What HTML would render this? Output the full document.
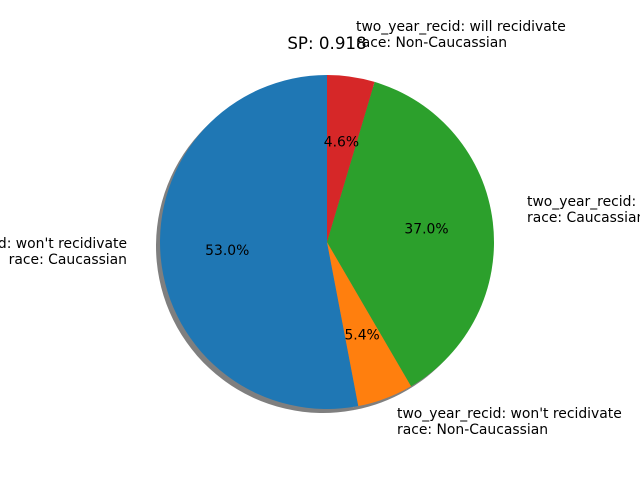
<!DOCTYPE html>
<html><head><meta charset="utf-8"><style>
body{margin:0;background:#fff;}
svg{display:block;font-family:"DejaVu Sans","Liberation Sans",sans-serif;}
</style></head><body>
<svg id="chart" width="640" height="480" viewBox="0 0 640 480">
<rect width="640" height="480" fill="#fff"/>
<text x="327" y="49" font-size="16.7" text-anchor="middle" fill="#000">SP: 0.918</text>
<g id="shadow"></g>
<g id="slices"></g>
<g id="pcts"></g>
<g font-size="13.9" fill="#000">
<text x="127" y="248" text-anchor="end"><tspan x="127">two_year_recid: won't recidivate</tspan><tspan x="127" dy="16">race: Caucassian</tspan></text>
<text x="397" y="418"><tspan x="397">two_year_recid: won't recidivate</tspan><tspan x="397" dy="16">race: Non-Caucassian</tspan></text>
<text x="527" y="206"><tspan x="527">two_year_recid: will recidivate</tspan><tspan x="527" dy="16">race: Caucassian</tspan></text>
<text x="356" y="31"><tspan x="356">two_year_recid: will recidivate</tspan><tspan x="356" dy="16">race: Non-Caucassian</tspan></text>
</g>
</svg>
<script>
const categories = ["won't recidivate / Caucassian","won't recidivate / Non-Caucassian","will recidivate / Caucassian","will recidivate / Non-Caucassian"];
const values = [53.0, 5.4, 37.0, 4.6];
const pctLabels = ["53.0%","5.4%","37.0%","4.6%"];
const colors = ["#1f77b4","#ff7f0e","#2ca02c","#d62728"];
const cx = 327, cy = 242, r = 167;
const NS = "http://www.w3.org/2000/svg";
const total = values.reduce((a,b)=>a+b,0);
function pt(deg, rad, ox, oy){ const a = deg*Math.PI/180; return [ox + rad*Math.cos(a), oy - rad*Math.sin(a)]; }
function arcPath(a0, a1, ox, oy){
  const p0 = pt(a0, r, ox, oy), p1 = pt(a1, r, ox, oy);
  const large = (a1-a0) > 180 ? 1 : 0;
  return `M${ox},${oy} L${p0[0]},${p0[1]} A${r},${r} 0 ${large} 0 ${p1[0]},${p1[1]} Z`;
}
const sh = document.getElementById('shadow'), sl = document.getElementById('slices'), pc = document.getElementById('pcts');
let start = 90;
values.forEach((v,i)=>{
  const sweep = v/total*360, end = start + sweep;
  const s = document.createElementNS(NS,'path');
  s.setAttribute('d', arcPath(start, end, cx-4, cy+4));
  s.setAttribute('fill', '#000'); s.setAttribute('fill-opacity', '0.5');
  
  
  sh.appendChild(s);
  const p = document.createElementNS(NS,'path');
  p.setAttribute('d', arcPath(start, end, cx, cy));
  p.setAttribute('fill', colors[i]);
  
  
  sl.appendChild(p);
  const mid = (start+end)/2, lp = pt(mid, 0.6*r, cx, cy);
  const t = document.createElementNS(NS,'text');
  t.setAttribute('x', lp[0]); t.setAttribute('y', lp[1]+3.5);
  t.setAttribute('text-anchor','middle'); t.setAttribute('font-size','13.9');
  t.textContent = pctLabels[i];
  
  
  pc.appendChild(t);
  start = end;
});
</script>
</body></html>
